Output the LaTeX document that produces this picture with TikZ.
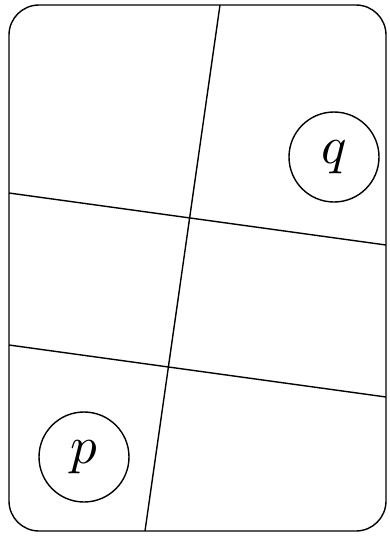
\documentclass[tikz,border=0pt]{standalone}
\usetikzlibrary{positioning}
\newcommand{\biglabel}[1]{\scalebox{5.3}{$#1$}}
\begin{document}
\begin{tikzpicture}[x=1pt, y=-1pt, line width=1.4pt,
        point/.style={circle, draw, minimum size=90pt, inner sep=0pt}]
        \useasboundingbox (0, 0) rectangle (389, 536);
        \draw[rounded corners=30pt] (9, 5) rectangle (386, 531);
        \coordinate (top) at (220, 5);
        \coordinate (bottom) at (145, 531);
        \coordinate (left1) at (9, 193);
        \coordinate (right1) at (386, 245);
        \coordinate (left2) at (9, 345);
        \coordinate (right2) at (386, 397);
        \draw (top) -- (bottom);
        \draw (left1) -- (right1);
        \draw (left2) -- (right2);
        \node[point] (q) at (334, 157) {\biglabel{q}};
        \node[point] (p) at (84, 457) {\biglabel{p}};
    \end{tikzpicture}
\end{document}
